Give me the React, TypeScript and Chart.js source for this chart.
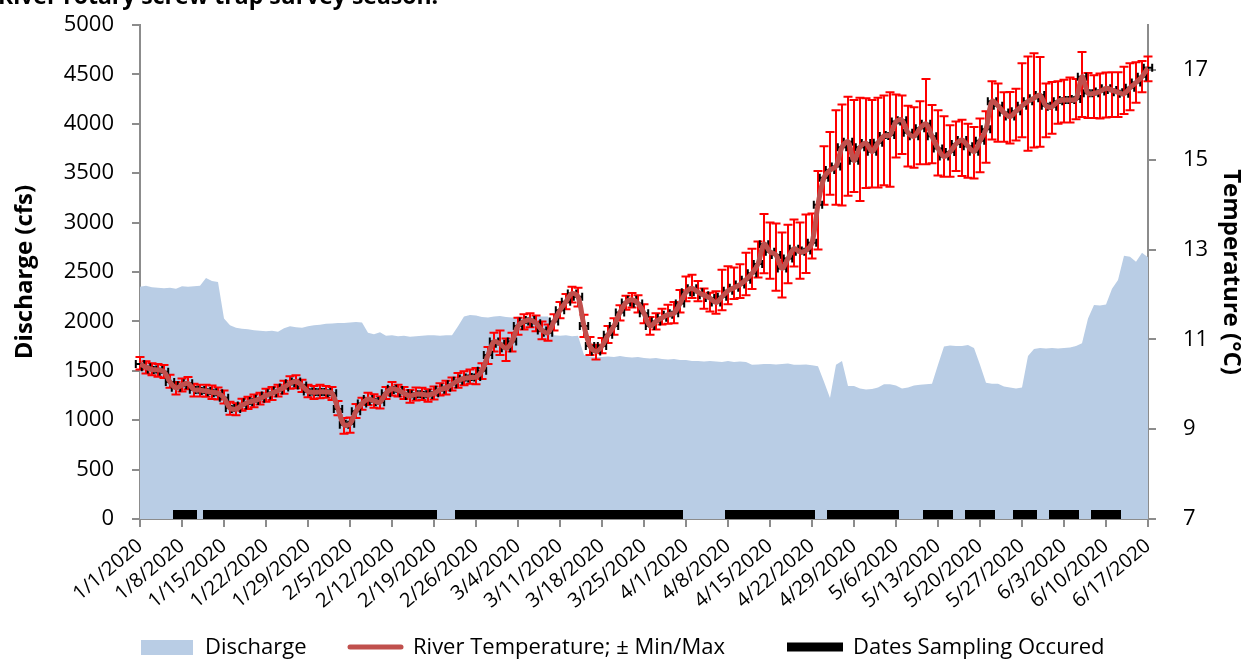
import React, { useEffect, useRef } from "react";
import { Chart, registerables } from "chart.js";

Chart.register(...registerables);

// Weekly tick labels along the date axis (day 0 = 1/1/2020)
const dateTicks = [
  "1/1/2020", "1/8/2020", "1/15/2020", "1/22/2020", "1/29/2020", "2/5/2020", "2/12/2020",
  "2/19/2020", "2/26/2020", "3/4/2020", "3/11/2020", "3/18/2020", "3/25/2020", "4/1/2020",
  "4/8/2020", "4/15/2020", "4/22/2020", "4/29/2020", "5/6/2020", "5/13/2020", "5/20/2020",
  "5/27/2020", "6/3/2020", "6/10/2020", "6/17/2020",
];

// Temperature axis tick values (°C)
const tempTicks = [7, 9, 11, 13, 15, 17];

// Daily mean discharge (cfs), 1/1/2020 - 6/17/2020
const discharge = [
  2350, 2360, 2345, 2340, 2335, 2340, 2330, 2355, 2350, 2355,
  2360, 2440, 2410, 2400, 2030, 1960, 1935, 1925, 1920, 1910,
  1905, 1900, 1905, 1895, 1930, 1950, 1940, 1935, 1950, 1960,
  1965, 1975, 1980, 1985, 1985, 1990, 1995, 1990, 1885, 1870,
  1890, 1855, 1860, 1850, 1855, 1845, 1850, 1855, 1860, 1860,
  1855, 1860, 1860, 1950, 2050, 2065, 2060, 2045, 2040, 2050,
  2055, 2045, 2040, 2050, 2045, 2050, 2055, 2050, 2050, 1860,
  1855, 1860, 1850, 1855, 1660, 1645, 1640, 1640, 1645, 1640,
  1650, 1640, 1635, 1640, 1630, 1625, 1630, 1620, 1615, 1620,
  1610, 1610, 1600, 1600, 1595, 1600, 1595, 1590, 1600, 1590,
  1595, 1590, 1560, 1565, 1570, 1570, 1565, 1570, 1575, 1560,
  1560, 1565, 1555, 1545, 1390, 1225, 1560, 1600, 1345, 1345,
  1320, 1310, 1315, 1330, 1365, 1365, 1350, 1320, 1330, 1350,
  1360, 1365, 1370, 1560, 1745, 1755, 1750, 1750, 1760, 1730,
  1560, 1380, 1370, 1370, 1340, 1330, 1320, 1330, 1650, 1720,
  1730, 1725, 1730, 1725, 1730, 1735, 1750, 1780, 2030, 2165,
  2160, 2170, 2330, 2420, 2665, 2655, 2605, 2695, 2650,
];

// Daily mean river temperature (°C)
const riverTemp = [
  10.45, 10.38, 10.33, 10.32, 10.28, 10.05, 9.92, 9.98, 10.02, 9.88,
  9.87, 9.85, 9.82, 9.8, 9.7, 9.47, 9.45, 9.53, 9.6, 9.63,
  9.68, 9.75, 9.8, 9.86, 9.93, 10.02, 10.06, 9.97, 9.84, 9.82,
  9.83, 9.83, 9.8, 9.45, 9.1, 9.12, 9.4, 9.57, 9.67, 9.63,
  9.6, 9.8, 9.9, 9.87, 9.8, 9.74, 9.78, 9.78, 9.76, 9.8,
  9.88, 9.92, 10.0, 10.08, 10.13, 10.15, 10.16, 10.3, 10.65, 10.95,
  10.9, 10.8, 10.95, 11.3, 11.4, 11.43, 11.36, 11.2, 11.15, 11.4,
  11.65, 11.84, 12.02, 11.95, 11.3, 10.85, 10.73, 10.85, 11.1, 11.3,
  11.6, 11.82, 11.88, 11.8, 11.58, 11.3, 11.4, 11.48, 11.55, 11.58,
  11.8, 12.05, 12.14, 12.05, 11.98, 11.92, 11.82, 11.95, 12.08, 12.15,
  12.22, 12.33, 12.47, 12.68, 13.12, 12.95, 12.88, 12.58, 12.8, 13.02,
  12.95, 12.98, 13.15, 14.0, 14.6, 14.77, 14.85, 15.28, 15.4, 14.98,
  15.28, 15.37, 15.18, 15.38, 15.53, 15.55, 15.85, 15.88, 15.6, 15.52,
  15.7, 15.8, 15.52, 15.25, 15.07, 15.17, 15.35, 15.44, 15.3, 15.18,
  15.42, 15.68, 16.3, 16.2, 16.05, 15.96, 16.08, 16.2, 16.3, 16.37,
  16.44, 16.2, 16.18, 16.3, 16.33, 16.33, 16.35, 16.85, 16.48, 16.48,
  16.52, 16.59, 16.55, 16.5, 16.47, 16.6, 16.72, 16.85, 17.05,
];

// Distance from the daily mean up to the daily maximum (°C)
const tempToMax = [
  0.16, 0.13, 0.14, 0.13, 0.15, 0.16, 0.13, 0.15, 0.14, 0.13,
  0.12, 0.14, 0.15, 0.13, 0.16, 0.14, 0.13, 0.15, 0.12, 0.14,
  0.13, 0.15, 0.14, 0.13, 0.15, 0.16, 0.14, 0.13, 0.15, 0.14,
  0.16, 0.13, 0.14, 0.18, 0.15, 0.14, 0.16, 0.13, 0.14, 0.15,
  0.13, 0.14, 0.15, 0.12, 0.14, 0.13, 0.15, 0.14, 0.13, 0.15,
  0.14, 0.16, 0.15, 0.17, 0.16, 0.18, 0.2, 0.17, 0.18, 0.2,
  0.3, 0.22, 0.2, 0.18, 0.16, 0.15, 0.17, 0.2, 0.18, 0.16,
  0.18, 0.17, 0.15, 0.2, 0.25, 0.2, 0.15, 0.18, 0.2, 0.17,
  0.16, 0.15, 0.15, 0.18, 0.2, 0.2, 0.18, 0.2, 0.22, 0.25,
  0.3, 0.35, 0.3, 0.25, 0.15, 0.12, 0.25, 0.6, 0.55, 0.45,
  0.45, 0.6, 0.55, 0.5, 0.67, 0.65, 0.7, 0.8, 0.75, 0.65,
  0.65, 0.8, 0.65, 0.75, 0.7, 0.85, 1.25, 0.95, 1.0, 1.35,
  1.1, 1.0, 1.15, 1.0, 0.9, 0.95, 0.6, 0.55, 0.6, 0.65,
  0.6, 1.0, 0.7, 0.85, 0.9, 0.6, 0.5, 0.45, 0.5, 0.55,
  0.5, 0.4, 0.45, 0.5, 0.45, 0.55, 0.5, 0.95, 1.0, 1.0,
  0.85, 0.5, 0.55, 0.45, 0.45, 0.5, 0.45, 0.55, 0.45, 0.4,
  0.4, 0.35, 0.4, 0.45, 0.6, 0.55, 0.45, 0.35, 0.25,
];

// Distance from the daily mean down to the daily minimum (°C)
const tempToMin = [
  0.12, 0.14, 0.13, 0.15, 0.14, 0.13, 0.15, 0.14, 0.13, 0.15,
  0.14, 0.13, 0.15, 0.14, 0.13, 0.15, 0.14, 0.12, 0.15, 0.14,
  0.13, 0.14, 0.15, 0.13, 0.14, 0.12, 0.15, 0.14, 0.13, 0.15,
  0.14, 0.13, 0.15, 0.14, 0.2, 0.2, 0.15, 0.14, 0.13, 0.15,
  0.14, 0.13, 0.15, 0.14, 0.13, 0.15, 0.14, 0.13, 0.15, 0.14,
  0.13, 0.15, 0.14, 0.16, 0.15, 0.14, 0.16, 0.18, 0.2, 0.22,
  0.25, 0.28, 0.22, 0.2, 0.18, 0.16, 0.18, 0.2, 0.18, 0.2,
  0.18, 0.17, 0.2, 0.22, 0.25, 0.2, 0.18, 0.16, 0.18, 0.2,
  0.18, 0.16, 0.17, 0.2, 0.22, 0.2, 0.18, 0.15, 0.2, 0.22,
  0.2, 0.2, 0.22, 0.2, 0.3, 0.3, 0.25, 0.3, 0.3, 0.25,
  0.3, 0.35, 0.35, 0.3, 0.65, 0.6, 0.8, 0.65, 0.55, 0.4,
  0.6, 0.5, 0.35, 1.0, 0.6, 0.55, 0.85, 1.3, 1.2, 0.7,
  1.2, 1.0, 0.8, 1.0, 1.1, 1.15, 0.8, 0.75, 0.75, 0.7,
  0.8, 0.9, 0.6, 0.6, 0.45, 0.55, 0.6, 0.8, 0.7, 0.6,
  0.7, 0.75, 0.85, 0.8, 0.65, 0.6, 0.65, 0.7, 1.1, 1.1,
  1.15, 0.7, 0.6, 0.5, 0.5, 0.5, 0.45, 0.9, 0.55, 0.55,
  0.6, 0.65, 0.6, 0.55, 0.45, 0.5, 0.45, 0.35, 0.3,
];

// Sampling periods (first and last day fished, 2020)
const samplingStart = ["1/7", "1/12", "2/23", "4/8", "4/25", "5/11", "5/18", "5/26", "6/1", "6/8"];
const samplingEnd = ["1/10", "2/19", "3/31", "4/22", "5/6", "5/15", "5/22", "5/29", "6/5", "6/12"];

const TEMP_LABEL = "River Temperature; \u00B1 Min/Max";
const TITLE_TAIL = "River rotary screw trap survey season.";
const FONT = "'Open Sans', sans-serif";
const AXIS_GRAY = "#8C8C8C";
const DISCHARGE_FILL = "#B9CDE5";
const TEMP_LINE = "#C0504D";
const SAMPLING_LEVEL = 46; // cfs level the sampling bar sits on
const X_HALF_WIDTH = 0.7; // days, horizontal error bar half width

// first day-of-year index of Jan..Jun 2020 (leap year)
const monthOffset = [0, 31, 60, 91, 121, 152];
const dayIndex = (md: string) => {
  const [m, d] = md.split("/").map(Number);
  return monthOffset[m - 1] + d - 1;
};

const errorBarsPlugin = {
  id: "errorBars",
  beforeDatasetDraw(chart: any, args: any) {
    const ds = chart.data.datasets[args.index];
    if (ds.label !== TEMP_LABEL) return;
    const { ctx } = chart;
    const xs = chart.scales.x;
    const ys = chart.scales.y1;
    ctx.save();
    ctx.lineWidth = 2;
    ctx.strokeStyle = "#FF0000";
    ctx.beginPath();
    riverTemp.forEach((t, i) => {
      const x = xs.getPixelForValue(i);
      const top = ys.getPixelForValue(t + tempToMax[i]);
      const bot = ys.getPixelForValue(t - tempToMin[i]);
      ctx.moveTo(x, top);
      ctx.lineTo(x, bot);
      ctx.moveTo(x - 4.5, top);
      ctx.lineTo(x + 4.5, top);
      ctx.moveTo(x - 4.5, bot);
      ctx.lineTo(x + 4.5, bot);
    });
    ctx.stroke();
    ctx.strokeStyle = "#000000";
    ctx.beginPath();
    riverTemp.forEach((t, i) => {
      const y = ys.getPixelForValue(t);
      const x0 = xs.getPixelForValue(i - X_HALF_WIDTH);
      const x1 = xs.getPixelForValue(i + X_HALF_WIDTH);
      ctx.moveTo(x0, y);
      ctx.lineTo(x1, y);
      ctx.moveTo(x0, y - 4);
      ctx.lineTo(x0, y + 4);
      ctx.moveTo(x1, y - 4);
      ctx.lineTo(x1, y + 4);
    });
    ctx.stroke();
    ctx.restore();
  },
};

const legendAndTitlePlugin = {
  id: "legendAndTitle",
  afterDraw(chart: any) {
    const { ctx } = chart;
    ctx.save();
    // tail line of the figure caption
    ctx.fillStyle = "#000";
    ctx.font = `bold 23px ${FONT}`;
    ctx.textBaseline = "alphabetic";
    ctx.textAlign = "left";
    ctx.fillText(TITLE_TAIL, -2, 4);

    // legend row
    const textY = 654;
    const midY = 647;
    ctx.font = `22px ${FONT}`;
    const ds = chart.data.datasets;
    // Discharge
    ctx.fillStyle = DISCHARGE_FILL;
    ctx.fillRect(141, 640, 52, 15);
    ctx.fillStyle = "#000";
    ctx.fillText(ds[2].label, 205, textY);
    // River temperature
    ctx.strokeStyle = TEMP_LINE;
    ctx.lineWidth = 5;
    ctx.lineCap = "round";
    ctx.beginPath();
    ctx.moveTo(350, midY);
    ctx.lineTo(401, midY);
    ctx.stroke();
    ctx.fillText(ds[0].label, 413, textY);
    // Sampling
    ctx.fillStyle = "#000";
    ctx.fillRect(787, midY - 4.5, 56, 9);
    ctx.fillText(ds[1].label, 853, textY);
    ctx.restore();
  },
};

export default function App() {
  const canvasRef = useRef<HTMLCanvasElement | null>(null);

  useEffect(() => {
    const canvas = canvasRef.current;
    if (!canvas) return;

    const dischargePts = discharge.map((v, i) => ({ x: i, y: v }));
    const tempPts = riverTemp.map((v, i) => ({ x: i, y: v }));
    const samplingPts: { x: number; y: number | null }[] = [];
    samplingStart.forEach((s, k) => {
      const a = dayIndex(s);
      const b = dayIndex(samplingEnd[k]);
      samplingPts.push({ x: a - 0.5, y: SAMPLING_LEVEL });
      samplingPts.push({ x: b + 0.5, y: SAMPLING_LEVEL });
      samplingPts.push({ x: b + 0.6, y: null });
    });

    const tickFont = { family: FONT, size: 22 };
    const titleFont = { family: FONT, size: 24, weight: "bold" as const, lineHeight: 1 };
    const axisGrid = { drawOnChartArea: false, drawTicks: true, tickLength: 8, color: AXIS_GRAY, lineWidth: 2 };
    const axisBorder = { display: true, color: AXIS_GRAY, width: 2 };
    // vertical axes: fixed box width, no extra top/bottom padding for the plot area
    const fixWidth = (w: number) => (scale: any) => {
      scale.width = w;
      scale.paddingTop = 0;
      scale.paddingBottom = 0;
    };

    const chart = new Chart(canvas, {
      type: "line",
      data: {
        datasets: [
          {
            label: TEMP_LABEL,
            data: tempPts,
            yAxisID: "y1",
            borderColor: TEMP_LINE,
            borderWidth: 5,
            pointRadius: 0,
            tension: 0.35,
            fill: false,
            order: 1,
          },
          {
            label: "Dates Sampling Occured",
            data: samplingPts,
            yAxisID: "y",
            borderColor: "#000000",
            borderWidth: 9,
            borderCapStyle: "butt",
            pointRadius: 0,
            spanGaps: false,
            fill: false,
            order: 2,
          },
          {
            label: "Discharge",
            data: dischargePts,
            yAxisID: "y",
            borderWidth: 0,
            borderColor: DISCHARGE_FILL,
            backgroundColor: DISCHARGE_FILL,
            pointRadius: 0,
            tension: 0,
            fill: "origin",
            order: 3,
          },
        ],
      },
      options: {
        responsive: false,
        animation: false,
        devicePixelRatio: 1,
        layout: { padding: { top: 25, left: 0, right: 0, bottom: 0 } },
        plugins: {
          legend: { display: false },
          tooltip: { enabled: false },
          title: { display: false },
        },
        scales: {
          x: {
            type: "linear",
            min: 0,
            max: 168,
            afterFit: (scale: any) => {
              scale.height = 140;
              scale.paddingLeft = 0;
              scale.paddingRight = 0;
            },
            ticks: {
              stepSize: 7,
              autoSkip: false,
              minRotation: 40,
              maxRotation: 40,
              padding: 7,
              color: "#000",
              font: { family: FONT, size: 20 },
              callback: (v: any) => dateTicks[Math.round(Number(v) / 7)] ?? "",
            },
            grid: axisGrid,
            border: axisBorder,
          },
          y: {
            type: "linear",
            position: "left",
            min: 0,
            max: 5000,
            afterFit: fixWidth(140),
            ticks: {
              stepSize: 500,
              includeBounds: false,
              color: "#000",
              font: tickFont,
              padding: 18,
              callback: (v: any) => String(v),
            },
            grid: axisGrid,
            border: axisBorder,
            title: {
              display: true,
              text: "Discharge (cfs)",
              color: "#000",
              font: titleFont,
              padding: { top: 13, bottom: 0 },
            },
          },
          y1: {
            type: "linear",
            position: "right",
            min: 7,
            max: 18,
            afterBuildTicks: (scale: any) => {
              scale.ticks = tempTicks.map((v) => ({ value: v }));
            },
            afterFit: fixWidth(95),
            ticks: {
              color: "#000",
              font: tickFont,
              padding: 27,
              callback: (v: any) => String(v),
            },
            grid: axisGrid,
            border: axisBorder,
            title: {
              display: true,
              text: "Temperature (\u00B0C)",
              color: "#000",
              font: titleFont,
              padding: { top: 0, bottom: 0 },
            },
          },
        },
      },
      plugins: [errorBarsPlugin, legendAndTitlePlugin],
    } as any);

    return () => chart.destroy();
  }, []);

  return (
    <div style={{ position: "fixed", left: 0, top: 0, width: 1243, height: 659, background: "#fff" }}>
      <canvas ref={canvasRef} width={1243} height={659} style={{ display: "block", width: 1243, height: 659 }} />
    </div>
  );
}
